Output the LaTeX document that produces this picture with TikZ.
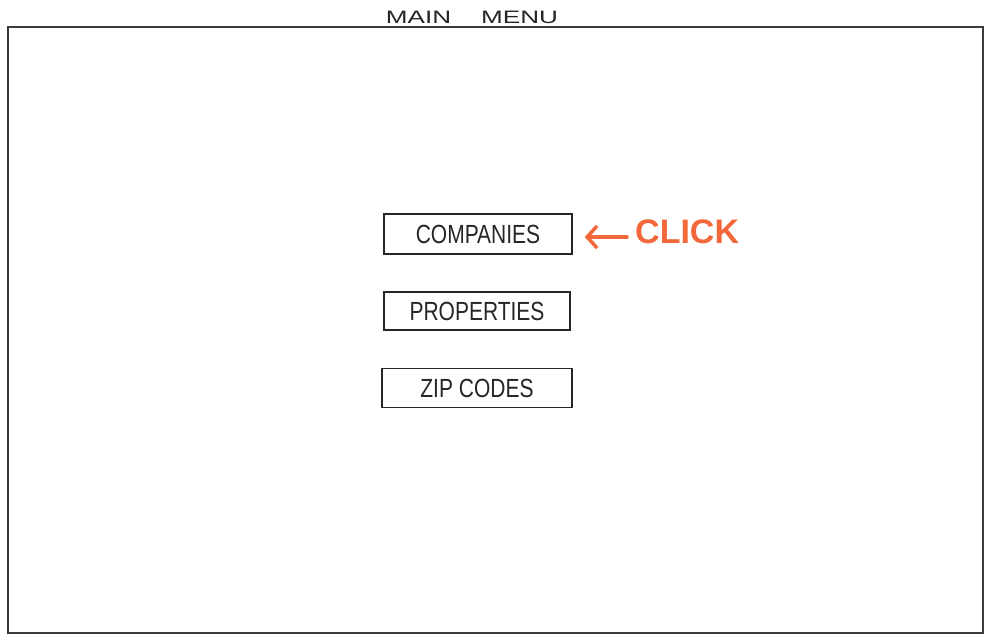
\documentclass[tikz,border=0pt]{standalone}
\usepackage{fontspec}
\setmainfont{Liberation Sans}
\usetikzlibrary{arrows.meta}
\definecolor{clickorange}{HTML}{F2683A}
\definecolor{frameink}{HTML}{3A3A3A}
\tikzset{
  menubtn/.style={draw=black!85, line width=1.4pt, minimum width=188pt, minimum height=40pt, inner sep=0pt,
    font=\fontsize{21}{24}\selectfont, text=black!85},
  frameline/.style={draw=frameink, line width=1.2pt},
  clickarrow/.style={draw=clickorange, line width=3.5pt, line cap=round, -{Straight Barb[length=10pt,width=22pt,line width=3.5pt]}},
}
\newcommand{\tallcaps}[1]{\scalebox{1}[1.25]{#1}}
\begin{document}
\begin{tikzpicture}[x=1pt,y=-1pt]
\useasboundingbox (0,0) rectangle (989,640);
\fill[white] (0,0) rectangle (989,640);
\draw[frameline] (8,27) rectangle (983,633);
\node[font=\fontsize{18}{20}\selectfont, text=black!85, inner sep=0pt] (title) at (472,17) {\scalebox{1.45}[1]{MAIN}\hspace{30pt}\scalebox{1.45}[1]{MENU}};
\node[menubtn] (companies) at (478,234) {\tallcaps{COMPANIES}};
\node[menubtn, minimum width=186pt, minimum height=38pt] (properties) at (477,311) {\tallcaps{PROPERTIES}};
\node[menubtn, minimum width=190pt, minimum height=39pt] (zip) at (477,388) {\tallcaps{ZIP CODES}};
\node[font=\fontsize{34}{38}\bfseries\selectfont, text=clickorange, anchor=west, inner sep=0pt] (click) at (635,232) {CLICK};
\coordinate (arrowstart) at (627,237);
\draw[clickarrow] (arrowstart) -- ([xshift=12pt]companies.east |- arrowstart);
\end{tikzpicture}
\end{document}
